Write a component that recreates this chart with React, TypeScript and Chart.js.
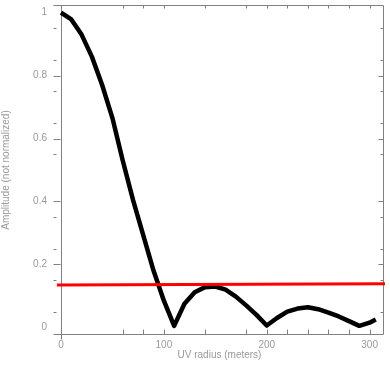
import { useEffect, useRef } from "react";
import { Chart, registerables } from "chart.js";

Chart.register(...registerables);

// UV radius (meters) and measured amplitude
const radius = [0, 10, 20, 30, 40, 50, 60, 70, 80, 90, 100, 110, 120, 130, 140, 150, 160, 170, 180, 190, 200, 210, 220, 230, 240, 250, 260, 270, 280, 290, 300, 306];
const amplitude = [1.0, 0.978, 0.93, 0.86, 0.77, 0.665, 0.53, 0.405, 0.292, 0.18, 0.085, 0.005, 0.075, 0.112, 0.128, 0.13, 0.12, 0.098, 0.07, 0.04, 0.006, 0.03, 0.05, 0.06, 0.064, 0.058, 0.047, 0.035, 0.02, 0.005, 0.015, 0.025];

// red threshold line
const thresholdX = [-4, 315];
const thresholdY = [0.135, 0.139];

const yLabelTicks = [0, 0.2, 0.4, 0.6, 0.8, 1];
const yMinorTicks = [0.05, 0.15, 0.25, 0.35, 0.55, 0.65, 0.75, 0.85, 0.95];
const xLabelTicks = [0, 100, 200, 300];
const xMarkTicks = [0, 60, 80, 100, 140, 180, 200, 220, 240, 260, 280, 300];

const xTitle = "UV radius (meters)";
const yTitle = "Amplitude (not normalized)";

const AXIS_COLOR = "#808080";
const TEXT_COLOR = "#9a9a9a";
const FONT = "Liberation Sans";

const framePlugin = {
  id: "frame",
  beforeDatasetsDraw(chart: any) {
    const { ctx, chartArea, scales } = chart;
    const x = scales.x;
    const y = scales.y;
    const L = Math.round(chartArea.left) + 0.5;
    const R = Math.round(chartArea.right) - 0.5;
    const T = Math.round(chartArea.top) + 0.5;
    const B = Math.round(chartArea.bottom) - 0.5;
    ctx.save();
    ctx.strokeStyle = AXIS_COLOR;
    ctx.lineWidth = 1;
    ctx.beginPath();
    ctx.moveTo(L - 8, T);
    ctx.lineTo(R, T);
    ctx.moveTo(L - 8, B);
    ctx.lineTo(R, B);
    ctx.moveTo(L, T);
    ctx.lineTo(L, B + 5);
    ctx.moveTo(R, T);
    ctx.lineTo(R, B);
    for (const v of yLabelTicks) {
      const py = Math.round(y.getPixelForValue(v)) + 0.5;
      if (v > 0 && v < 1) {
        ctx.moveTo(L - 8, py);
        ctx.lineTo(L - 1, py);
        ctx.moveTo(R, py);
        ctx.lineTo(R - 5, py);
      }
    }
    for (const v of yMinorTicks) {
      const py = Math.round(y.getPixelForValue(v)) + 0.5;
      ctx.moveTo(L - 8, py);
      ctx.lineTo(L - 5, py);
      ctx.moveTo(R, py);
      ctx.lineTo(R - 3, py);
    }
    for (const v of xMarkTicks) {
      const px = Math.round(x.getPixelForValue(v)) + 0.5;
      ctx.moveTo(px, B);
      ctx.lineTo(px, B - 5);
      ctx.moveTo(px, T);
      ctx.lineTo(px, T + 3);
    }
    ctx.stroke();

    // labels
    ctx.fillStyle = TEXT_COLOR;
    ctx.font = `10px "${FONT}"`;
    ctx.textAlign = "right";
    ctx.textBaseline = "middle";
    for (const v of yLabelTicks) {
      ctx.fillText(String(v), 47, y.getPixelForValue(v));
    }
    ctx.textAlign = "center";
    for (const v of xLabelTicks) {
      ctx.fillText(String(v), x.getPixelForValue(v), 345.5);
    }
    ctx.fillText(xTitle, (chartArea.left + chartArea.right) / 2 - 3, 355);
    ctx.save();
    ctx.translate(6, (chartArea.top + chartArea.bottom) / 2);
    ctx.rotate(-Math.PI / 2);
    ctx.fillText(yTitle, 0, 0);
    ctx.restore();
    ctx.restore();
  },
};

export default function App() {
  const canvasRef = useRef<HTMLCanvasElement | null>(null);

  useEffect(() => {
    const canvas = canvasRef.current;
    if (!canvas) return;
    const chart = new Chart(canvas, {
      type: "line",
      data: {
        datasets: [
          {
            label: "threshold",
            data: thresholdX.map((v, i) => ({ x: v, y: thresholdY[i] })),
            borderColor: "#ff0000",
            borderWidth: 3,
            pointRadius: 0,
            tension: 0,
            clip: false as any,
          },
          {
            label: "amplitude",
            data: radius.map((v, i) => ({ x: v, y: amplitude[i] })),
            borderColor: "#000000",
            borderWidth: 4.5,
            pointRadius: 0,
            tension: 0,
            borderJoinStyle: "round",
            clip: false as any,
          },
        ],
      },
      options: {
        responsive: false,
        animation: false,
        events: [],
        layout: { padding: { top: 5, right: 6, left: 61, bottom: 33 } },
        plugins: {
          legend: { display: false },
          tooltip: { enabled: false },
        },
        scales: {
          x: { type: "linear", min: 0, max: 314, display: false },
          y: { type: "linear", min: -0.024, max: 1.024, display: false },
        },
      },
      plugins: [framePlugin],
    });
    return () => chart.destroy();
  }, []);

  return (
    <div style={{ position: "absolute", left: 0, top: 0, width: 390, height: 368, background: "#ffffff" }}>
      <canvas ref={canvasRef} width={390} height={368} />
    </div>
  );
}
